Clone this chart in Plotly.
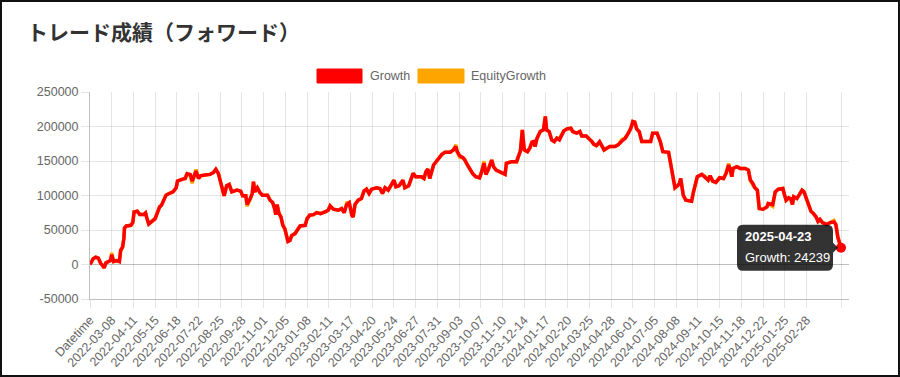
import pandas as pd
import plotly.graph_objects as go

# ---------------- data ----------------
title_text = "トレード成績（フォワード）"
series_names = ["Growth", "EquityGrowth"]
series_colors = ["#ff0000", "#ffa500"]

# category axis: header row "Datetime" followed by one row per calendar day
first_day = "2022-02-03"
last_day = "2025-04-23"

# row index in the category list (0 = "Datetime") of each sampled point
row_index = [
    0, 5, 9, 13, 17, 20, 22, 25, 29, 32,
    34, 37, 42, 46, 48, 51, 53, 54, 57, 64,
    67, 69, 74, 78, 84, 87, 89, 92, 97, 102,
    105, 109, 112, 116, 119, 124, 130, 135, 137, 144,
    149, 152, 157, 160, 163, 166, 170, 173, 180, 188,
    193, 197, 201, 205, 208, 210, 214, 218, 222, 230,
    236, 239, 244, 246, 251, 254, 256, 258, 262, 266,
    270, 278, 282, 286, 289, 291, 293, 296, 299, 302,
    305, 307, 310, 313, 316, 321, 325, 329, 337, 340,
    344, 350, 355, 361, 368, 373, 376, 381, 389, 394,
    398, 402, 406, 410, 412, 415, 420, 425, 429, 433,
    437, 441, 449, 454, 458, 462, 467, 472, 476, 479,
    484, 490, 493, 499, 504, 506, 510, 519, 523, 526,
    529, 532, 538, 542, 546, 551, 556, 564, 569, 573,
    575, 579, 584, 587, 591, 595, 599, 604, 610, 613,
    617, 620, 624, 629, 632, 636, 641, 645, 650, 652,
    660, 668, 672, 674, 677, 680, 685, 689, 692, 695,
    697, 700, 705, 710, 713, 715, 719, 723, 727, 731,
    735, 739, 742, 747, 753, 756, 762, 767, 770, 777,
    782, 786, 789, 793, 798, 801, 805, 809, 814, 822,
    827, 833, 838, 843, 847, 850, 853, 856, 860, 864,
    872, 878, 881, 888, 893, 897, 906, 908, 911, 914,
    916, 920, 923, 925, 927, 929, 933, 942, 945, 947,
    951, 958, 963, 968, 971, 975, 980, 986, 992, 996,
    1000, 1002, 1005, 1007, 1013, 1018, 1026, 1031, 1034, 1038,
    1041, 1045, 1048, 1054, 1060, 1062, 1069, 1073, 1078, 1085,
    1087, 1090, 1094, 1097, 1100, 1102, 1107, 1111, 1115, 1118,
    1122, 1125, 1129, 1133, 1137, 1140, 1143, 1147, 1154, 1159,
    1165, 1168, 1171, 1176,
]

growth = [
    0, 8300, 10700, 9200, 1000, -1500, -4900, 2400, 4400, 5800,
    14000, 4400, 5800, 4400, 20400, 25200, 37400, 52900, 55800, 56800,
    60700, 76200, 77200, 72300, 72300, 74700, 67500, 58700, 62600, 66500,
    73800, 83500, 85900, 95600, 100500, 102900, 105300, 111200, 120900, 123300,
    124700, 131500, 130600, 120900, 129600, 135400, 124700, 128600, 129600, 130600,
    133000, 137900, 132000, 116000, 107800, 99500, 114100, 116000, 105300, 107800,
    106300, 99500, 99500, 86900, 95600, 102900, 119900, 105300, 111200, 104400,
    100500, 100500, 93200, 89800, 81100, 72300, 86900, 73800, 68900, 56800,
    51900, 42200, 33500, 34900, 42200, 44700, 51000, 55800, 56800, 66500,
    71400, 72300, 75200, 73800, 76200, 78600, 84900, 80100, 78600, 81100,
    75200, 86900, 89800, 71400, 68900, 86900, 93200, 95600, 106300, 109200,
    102900, 109200, 111200, 110200, 102900, 111200, 107800, 116000, 122300, 112600,
    114100, 122300, 111200, 114100, 124700, 132000, 127200, 127200, 124700, 134400,
    138300, 124700, 144200, 149000, 152400, 159700, 162600, 162600, 166000, 170900,
    163600, 157800, 154800, 151400, 144200, 136900, 132000, 127200, 125700, 133500,
    146600, 130600, 138300, 151400, 141700, 136900, 134400, 132000, 130600, 146600,
    149000, 149000, 158700, 164600, 195100, 166000, 163600, 169400, 177200, 178100,
    170900, 183000, 192700, 195100, 214500, 195100, 192700, 180600, 178100, 183000,
    180600, 188800, 193700, 196600, 197600, 192700, 190300, 192700, 186200, 186200,
    182000, 178100, 174200, 172300, 178100, 173300, 166000, 168400, 170900, 170900,
    173300, 179100, 183000, 190300, 197600, 207300, 206300, 196600, 192700, 178100,
    178100, 178100, 190300, 190300, 178100, 163600, 162600, 151400, 139300, 124700,
    111200, 114100, 117500, 124700, 110200, 100500, 93200, 91700, 105300, 112600,
    127200, 130600, 125700, 122300, 128600, 120900, 118900, 125700, 124700, 132000,
    144200, 139300, 127200, 139300, 141700, 139300, 139300, 136900, 122300, 117500,
    111200, 107800, 81100, 80100, 83500, 88300, 86900, 105300, 109200, 110200,
    102900, 93200, 96600, 95600, 86900, 98100, 95600, 102900, 107800, 105300,
    95600, 86900, 77200, 73800, 68900, 62600, 65500, 60700, 57800, 60700,
    61600, 57800, 39800, 24239,
]

equity = [
    0, 8300, 10700, 9200, 1000, -1500, -4900, 2400, 4400, 5800,
    16800, 4400, 5800, 4400, 20400, 25200, 37400, 52900, 55800, 56800,
    60700, 76200, 77200, 72300, 72300, 74700, 67500, 58700, 62600, 66500,
    73800, 83500, 85900, 95600, 100500, 102900, 105300, 111200, 120900, 123300,
    124700, 131500, 128800, 117800, 129600, 137600, 124700, 128600, 129600, 130600,
    133000, 137900, 132000, 116000, 107800, 99500, 114100, 116000, 105300, 107800,
    106300, 99500, 99500, 84200, 95600, 102900, 119900, 105300, 111200, 104400,
    100500, 100500, 93200, 89800, 81100, 72300, 86900, 73800, 68900, 56800,
    51900, 42200, 33500, 34900, 42200, 44700, 51000, 55800, 56800, 66500,
    71400, 72300, 75200, 73800, 76200, 78600, 84900, 80100, 78600, 81100,
    75200, 89400, 89800, 71400, 68900, 86900, 93200, 95600, 106300, 109200,
    102900, 109200, 111200, 110200, 102900, 111200, 107800, 116000, 122300, 112600,
    114100, 122300, 111200, 114100, 127400, 132000, 127200, 127200, 124700, 134400,
    138300, 124700, 144200, 149000, 152400, 159700, 162600, 162600, 166000, 173600,
    163600, 155200, 154800, 151400, 144200, 136900, 132000, 127200, 125700, 133500,
    149800, 130600, 138300, 151400, 141700, 136900, 134400, 132000, 130600, 146600,
    149000, 149000, 158700, 164600, 195100, 166000, 163600, 169400, 177200, 178100,
    170900, 183000, 192700, 195100, 214500, 195100, 192700, 180600, 178100, 183000,
    182900, 188800, 193700, 196600, 197600, 192700, 190300, 192700, 186200, 186200,
    182000, 178100, 174200, 172300, 176000, 173300, 166000, 168400, 170900, 170900,
    173300, 181200, 183000, 190300, 197600, 207300, 206300, 196600, 192700, 178100,
    178100, 178100, 190300, 190300, 178100, 163600, 162600, 151400, 139300, 124700,
    111200, 114100, 117500, 124700, 110200, 100500, 93200, 91700, 105300, 112600,
    127200, 130600, 128000, 122300, 128600, 120900, 118900, 125700, 124700, 132000,
    146500, 139300, 127200, 139300, 141700, 139300, 139300, 136900, 122300, 115200,
    111200, 107800, 81100, 80100, 83500, 88300, 84200, 105300, 109200, 110200,
    102900, 93200, 96600, 95600, 86900, 98100, 95600, 102900, 107800, 105300,
    95600, 86900, 77200, 73800, 68900, 62600, 65500, 60700, 57800, 60700,
    63800, 57800, 39800, 24239,
]

tick_labels = [
    "Datetime", "2022-03-08", "2022-04-11", "2022-05-15", "2022-06-18",
    "2022-07-22", "2022-08-25", "2022-09-28", "2022-11-01", "2022-12-05",
    "2023-01-08", "2023-02-11", "2023-03-17", "2023-04-20", "2023-05-24",
    "2023-06-27", "2023-07-31", "2023-09-03", "2023-10-07", "2023-11-10",
    "2023-12-14", "2024-01-17", "2024-02-20", "2024-03-25", "2024-04-28",
    "2024-06-01", "2024-07-05", "2024-08-08", "2024-09-11", "2024-10-15",
    "2024-11-18", "2024-12-22", "2025-01-25", "2025-02-28",
]

hover_date = "2025-04-23"
hover_value = 24239

y_ticks = [-50000, 0, 50000, 100000, 150000, 200000, 250000]

if not (len(row_index) == len(growth) == len(equity)):
    raise SystemExit(f"length mismatch {len(row_index)} {len(growth)} {len(equity)}")

# ---------------- build ----------------
categories = ["Datetime"] + [d.strftime("%Y-%m-%d") for d in pd.date_range(first_day, last_day)]
x_vals = [categories[i] for i in row_index]

W, H = 900, 377
L, R, T, B = 90, 51, 92, 78
PW, PH = W - L - R, H - T - B


def px_x(px):
    return (px - L) / PW


def px_y(py):
    return (H - B - py) / PH


TXT = "#666666"
FONT = "Liberation Sans, Arial, sans-serif"
GRID = "rgba(0,0,0,0.1)"

fig = go.Figure()
fig.add_trace(go.Scatter(x=x_vals, y=equity, mode="lines", name=series_names[1],
                         line=dict(color=series_colors[1], width=3.5), hoverinfo="skip"))
fig.add_trace(go.Scatter(x=x_vals, y=growth, mode="lines", name=series_names[0],
                         line=dict(color=series_colors[0], width=3.5), hoverinfo="skip"))
fig.add_trace(go.Scatter(x=[hover_date], y=[hover_value], mode="markers",
                         marker=dict(color=series_colors[0], size=10), hoverinfo="skip"))

tickvals = tick_labels + [categories[-1]]
ticktext = tick_labels + [""]

fig.update_layout(
    width=W, height=H,
    margin=dict(l=L, r=R, t=T, b=B, autoexpand=False),
    paper_bgcolor="white", plot_bgcolor="white",
    showlegend=False, hovermode=False,
    font=dict(family=FONT, color=TXT, size=12.5),
    title=dict(text=f"<b>{title_text}</b>", x=27 / W, xanchor="left", xref="container",
               y=1 - 33 / H, yanchor="middle", yref="container",
               font=dict(family="Noto Sans CJK JP", size=21, color="#333333")),
    xaxis=dict(
        type="category", categoryorder="array", categoryarray=categories,
        range=[0, (len(categories) - 1) * PW / (841 - L)],
        tickmode="array", tickvals=tickvals, ticktext=ticktext,
        tickangle=-47, showgrid=True, gridcolor=GRID, gridwidth=1,
        ticks="outside", ticklen=8, tickcolor=GRID,
        showline=True, linecolor="rgba(0,0,0,0.25)", linewidth=1,
        tickfont=dict(family=FONT, color=TXT, size=12.5),
        zeroline=False, automargin=False,
    ),
    yaxis=dict(
        range=[-50000, 250000], tickmode="array", tickvals=y_ticks,
        ticktext=[str(v) for v in y_ticks],
        showgrid=True, gridcolor=GRID, gridwidth=1,
        ticks="outside", ticklen=8, tickcolor=GRID,
        showline=True, linecolor="rgba(0,0,0,0.25)", linewidth=1,
        zeroline=True, zerolinecolor="rgba(0,0,0,0.25)", zerolinewidth=1,
        tickfont=dict(family=FONT, color=TXT, size=12.5), automargin=False,
    ),
)

shapes = []
# outer frame
shapes.append(dict(type="rect", xref="paper", yref="paper",
                   x0=px_x(1), x1=px_x(899), y0=px_y(376), y1=px_y(1),
                   line=dict(color="#111111", width=2), fillcolor="rgba(0,0,0,0)", layer="above"))
# legend boxes
legend_boxes = [(317, 362), (418, 464)]
legend_text_x = [368, 469]
for (x0, x1), col, name, tx in zip(legend_boxes, series_colors, series_names, legend_text_x):
    shapes.append(dict(type="rect", xref="paper", yref="paper",
                       x0=px_x(x0), x1=px_x(x1), y0=px_y(83), y1=px_y(69),
                       line=dict(color=col, width=1), fillcolor=col))
    fig.add_annotation(text=name, xref="paper", yref="paper", x=px_x(tx), y=px_y(76),
                       xanchor="left", yanchor="middle", showarrow=False,
                       font=dict(family=FONT, color=TXT, size=12.5))

# tooltip box with caret (pixel-sized, anchored at the hovered point)
tip_path = ("M -98,-23 L -14,-23 Q -8,-23 -8,-17 L -8,-5 L -3,0 L -8,5 L -8,17 "
            "Q -8,23 -14,23 L -98,23 Q -104,23 -104,17 L -104,-17 Q -104,-23 -98,-23 Z")
shapes.append(dict(type="path", xref="x", yref="y", xsizemode="pixel", ysizemode="pixel",
                   xanchor=hover_date, yanchor=hover_value, path=tip_path,
                   fillcolor="rgba(0,0,0,0.8)", line=dict(width=0), layer="above"))
fig.update_layout(shapes=shapes)

fig.add_annotation(text=f"<b>{hover_date}</b>", xref="x", yref="y", x=hover_date, y=hover_value,
                   xanchor="left", yanchor="middle", xshift=-98, yshift=11, showarrow=False,
                   font=dict(family=FONT, color="white", size=13))
fig.add_annotation(text=f"{series_names[0]}: {hover_value}", xref="x", yref="y", x=hover_date,
                   y=hover_value, xanchor="left", yanchor="middle", xshift=-98, yshift=-10,
                   showarrow=False, font=dict(family=FONT, color="white", size=13))

fig.write_html("out.html", config={"displayModeBar": False},
               post_script="document.body.style.margin='0';document.body.style.overflow='hidden';")
